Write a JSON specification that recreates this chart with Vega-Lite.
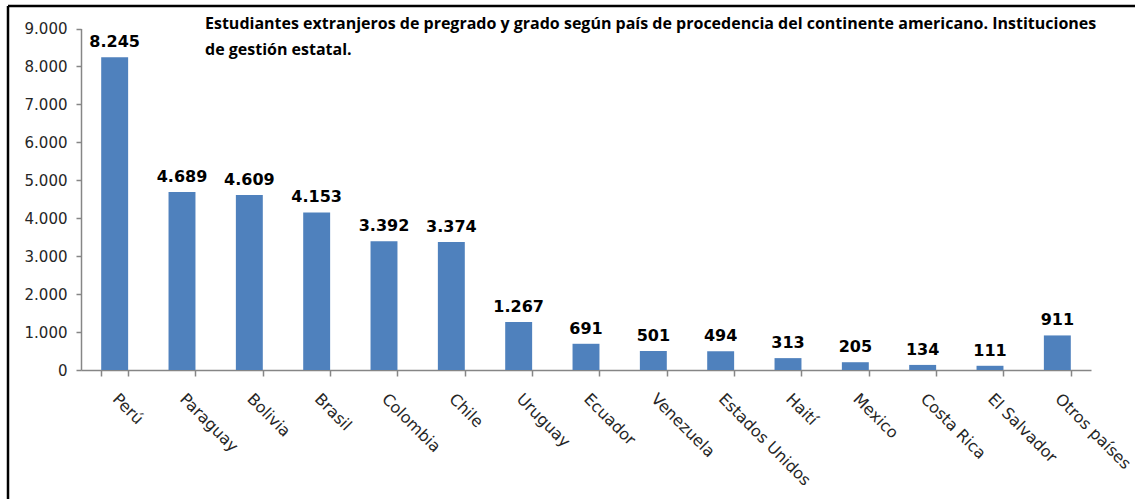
{
  "$schema": "https://vega.github.io/schema/vega-lite/v6.json",
  "autosize": {"type": "none"},
  "width": 1127,
  "height": 493,
  "padding": {"left": 8, "top": 6, "right": 0, "bottom": 0},
  "background": "white",
  "config": {
    "locale": {"number": {"decimal": ",", "thousands": ".", "grouping": [3], "currency": ["", ""]}},
    "view": {"stroke": "black", "strokeWidth": 2.5, "strokeDash": [1127, 1620, 493, 0]}
  },
  "title": {
    "text": ["Estudiantes extranjeros de pregrado y grado según país de procedencia  del continente  americano. Instituciones", "de gestión estatal."],
    "anchor": "start",
    "frame": "group",
    "orient": "top",
    "offset": 0,
    "dx": 197,
    "dy": 65,
    "baseline": "alphabetic",
    "font": "Open Sans",
    "fontWeight": "bold",
    "fontSize": 16,
    "lineHeight": 26,
    "color": "black"
  },
  "data": {
    "values": [
      {"pais": "Perú", "estudiantes": 8245},
      {"pais": "Paraguay", "estudiantes": 4689},
      {"pais": "Bolivia", "estudiantes": 4609},
      {"pais": "Brasil", "estudiantes": 4153},
      {"pais": "Colombia", "estudiantes": 3392},
      {"pais": "Chile", "estudiantes": 3374},
      {"pais": "Uruguay", "estudiantes": 1267},
      {"pais": "Ecuador", "estudiantes": 691},
      {"pais": "Venezuela", "estudiantes": 501},
      {"pais": "Estados Unidos", "estudiantes": 494},
      {"pais": "Haití", "estudiantes": 313},
      {"pais": "Mexico", "estudiantes": 205},
      {"pais": "Costa Rica", "estudiantes": 134},
      {"pais": "El Salvador", "estudiantes": 111},
      {"pais": "Otros países", "estudiantes": 911}
    ]
  },
  "encoding": {
    "x": {
      "field": "pais",
      "type": "nominal",
      "sort": null,
      "scale": {"range": [73, 1083], "paddingInner": 0.6, "paddingOuter": 0.3},
      "axis": {
        "title": null,
        "offset": -129,
        "labelAngle": 45,
        "labelAlign": "left",
        "labelBaseline": "middle",
        "labelFont": "DejaVu Sans",
        "labelFontSize": 16,
        "labelColor": "#262626",
        "labelPadding": 20,
        "tickBand": "extent",
        "tickSize": 6,
        "tickColor": "#868686",
        "domainColor": "#868686",
        "domainWidth": 1.5,
        "tickWidth": 1.5,
        "grid": false
      }
    },
    "y": {
      "field": "estudiantes",
      "type": "quantitative",
      "scale": {"domain": [0, 9000], "range": [364, 22.5], "nice": false, "zero": true},
      "axis": {
        "title": null,
        "offset": -73,
        "values": [0, 1000, 2000, 3000, 4000, 5000, 6000, 7000, 8000, 9000],
        "format": ",.0f",
        "labelFont": "DejaVu Sans",
        "labelFontSize": 15,
        "labelColor": "#262626",
        "labelPadding": 9,
        "tickSize": 5,
        "tickColor": "#868686",
        "domainColor": "#868686",
        "domainWidth": 1.5,
        "tickWidth": 1.5,
        "grid": false
      }
    }
  },
  "layer": [
    {"mark": {"type": "bar", "color": "#4F81BD"}},
    {
      "mark": {"type": "text", "dy": -10, "baseline": "alphabetic", "font": "DejaVu Sans", "fontWeight": "bold", "fontSize": 16, "color": "black"},
      "encoding": {"text": {"field": "estudiantes", "type": "quantitative", "format": ",.0f"}}
    }
  ]
}
